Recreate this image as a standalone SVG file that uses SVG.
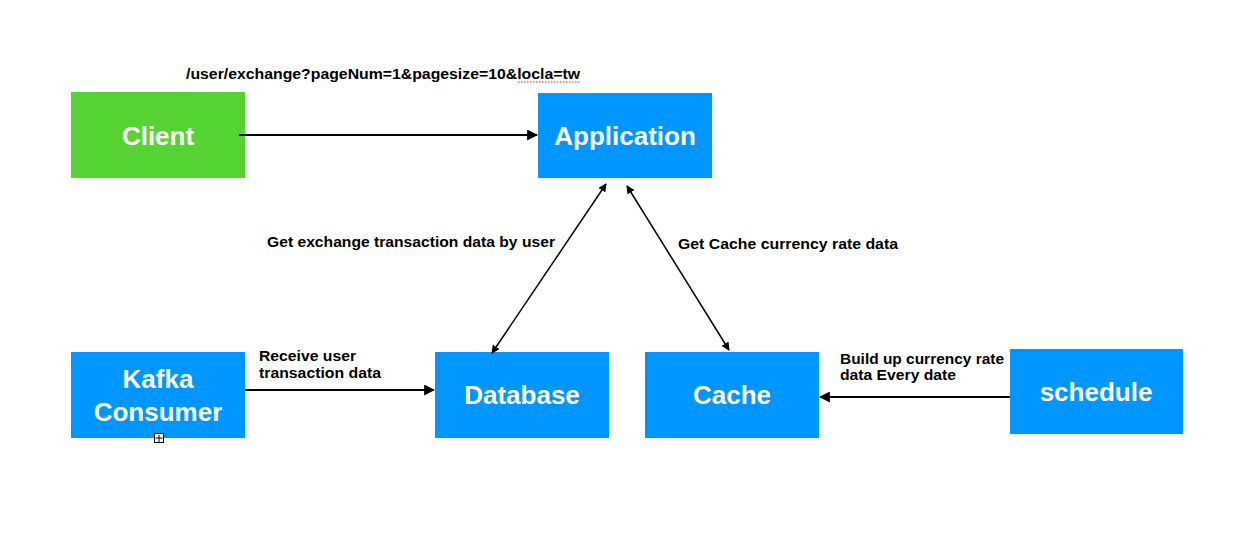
<svg xmlns="http://www.w3.org/2000/svg" width="1234" height="537" viewBox="0 0 1234 537">
<defs>
<style>
.blue{fill:#0096FF}
.green{fill:#56D434}
.nt{font-family:"Liberation Sans",Arial,sans-serif;font-weight:bold;font-size:26px;fill:#fff;text-anchor:middle}
.lb{font-family:"Liberation Sans",Arial,sans-serif;font-weight:bold;font-size:15.5px;fill:#000}
.ln{stroke:#000;stroke-width:2;fill:none}
</style>
<marker id="ah" viewBox="0 0 10 10" refX="9" refY="5" markerWidth="5.5" markerHeight="5.5" orient="auto-start-reverse" markerUnits="strokeWidth">
<path d="M0,0 L10,5 L0,10 z" fill="#000"/>
</marker>
</defs>
<rect width="1234" height="537" fill="#fff"/>
<g id="client"><rect class="green" x="71" y="92" width="174" height="86"/><text class="nt" x="158" y="145">Client</text></g>
<g id="application"><rect class="blue" x="538" y="93" width="174" height="85"/><text class="nt" x="625" y="145">Application</text></g>
<g id="kafka"><rect class="blue" x="71" y="352" width="174" height="86"/><text class="nt" x="158" y="388">Kafka</text><text class="nt" x="158" y="421">Consumer</text></g>
<g id="database"><rect class="blue" x="435" y="352" width="174" height="86"/><text class="nt" x="522" y="404">Database</text></g>
<g id="cache"><rect class="blue" x="645" y="352" width="174" height="86"/><text class="nt" x="732" y="404">Cache</text></g>
<g id="schedule"><rect class="blue" x="1010" y="349" width="173" height="85"/><text class="nt" x="1096" y="401">schedule</text></g>
<g id="connectors">
<line class="ln" x1="239" y1="135" x2="537" y2="135" marker-end="url(#ah)"/>
<line class="ln" x1="245" y1="390" x2="434" y2="390" marker-end="url(#ah)"/>
<line class="ln" x1="1010" y1="397" x2="820" y2="397" marker-end="url(#ah)"/>
<line class="ln" x1="492" y1="353" x2="606" y2="184" marker-start="url(#ah)" marker-end="url(#ah)" style="stroke-width:1.5"/>
<line class="ln" x1="729" y1="350" x2="627" y2="186" marker-start="url(#ah)" marker-end="url(#ah)" style="stroke-width:1.5"/>
</g>
<g id="labels">
<text class="lb" x="186" y="79" textLength="394" lengthAdjust="spacingAndGlyphs">/user/exchange?pageNum=1&amp;pagesize=10&amp;locla=tw</text>
<line x1="518" y1="82" x2="580" y2="82" stroke="#e02020" stroke-width="1" stroke-dasharray="1.5,1.5"/>
<text class="lb" x="267" y="247" textLength="288" lengthAdjust="spacingAndGlyphs">Get exchange transaction data by user</text>
<text class="lb" x="678" y="249" textLength="220" lengthAdjust="spacingAndGlyphs">Get Cache currency rate data</text>
<text class="lb" x="259" y="361" textLength="97" lengthAdjust="spacingAndGlyphs">Receive user</text>
<text class="lb" x="259" y="378" textLength="122" lengthAdjust="spacingAndGlyphs">transaction data</text>
<text class="lb" x="840" y="364" textLength="164" lengthAdjust="spacingAndGlyphs">Build up currency rate</text>
<text class="lb" x="840" y="380" textLength="116" lengthAdjust="spacingAndGlyphs">data Every date</text>
</g>
<g id="handle"><rect x="154.5" y="433.5" width="9" height="9" fill="#fff" stroke="#000" stroke-width="1"/><path d="M159 435v7M155.5 438h7" stroke="#000" stroke-width="1"/></g>
</svg>
